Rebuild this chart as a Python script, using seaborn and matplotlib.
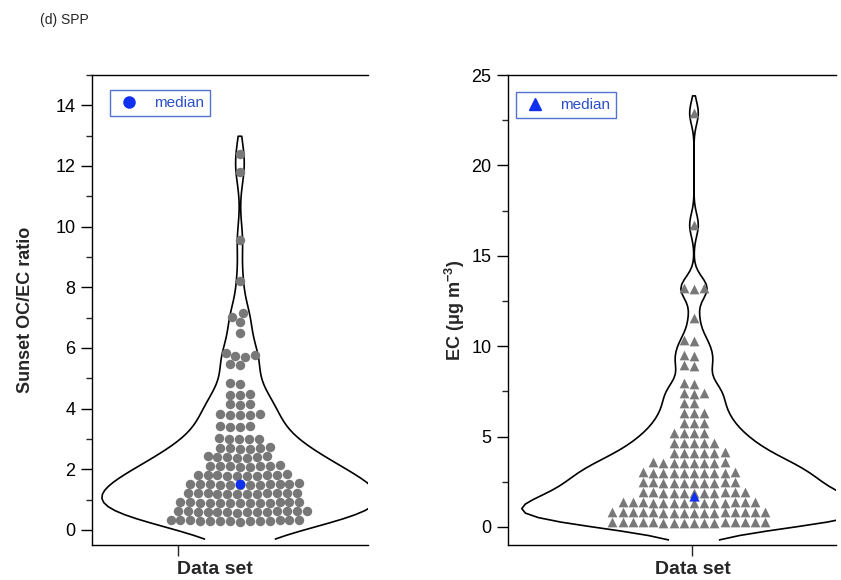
import numpy as np
import pandas as pd
import matplotlib
matplotlib.use("Agg")
import matplotlib.pyplot as plt
from matplotlib.ticker import MultipleLocator
from matplotlib.lines import Line2D
from matplotlib.path import Path
from matplotlib.collections import PolyCollection
import seaborn as sns

# ---------------- data ----------------
oc_ec_ratio = [
    0.28, 0.31, 0.29, 0.32, 0.30, 0.27, 0.33, 0.30, 0.29, 0.31, 0.32, 0.28, 0.30, 0.31,
    0.58, 0.61, 0.59, 0.62, 0.60, 0.57, 0.63, 0.60, 0.59, 0.61, 0.62, 0.58, 0.60, 0.61,
    0.88, 0.91, 0.89, 0.92, 0.90, 0.87, 0.93, 0.90, 0.89, 0.91, 0.92, 0.88, 0.90,
    1.18, 1.21, 1.19, 1.22, 1.20, 1.17, 1.23, 1.20, 1.19, 1.21, 1.22, 1.18,
    1.48, 1.51, 1.49, 1.52, 1.50, 1.47, 1.53, 1.50, 1.49, 1.51, 1.52, 1.48,
    1.78, 1.81, 1.79, 1.82, 1.80, 1.77, 1.83, 1.80, 1.79, 1.81,
    2.08, 2.11, 2.09, 2.12, 2.10, 2.07, 2.13, 2.10,
    2.38, 2.41, 2.39, 2.42, 2.40, 2.37, 2.43,
    2.68, 2.71, 2.69, 2.72, 2.70, 2.67,
    2.98, 3.01, 2.99, 3.02, 3.00,
    3.38, 3.41, 3.39, 3.42,
    3.78, 3.81, 3.79, 3.82, 3.80,
    4.13, 4.16, 4.14,
    4.45, 4.48, 4.46,
    4.80, 4.83,
    5.43, 5.46,
    5.70, 5.73, 5.76, 5.82,
    6.50, 6.85, 7.02, 7.15,
    8.20, 9.55, 11.80, 12.40,
]
ratio_median = 1.50

ec_conc = [
    0.23, 0.26, 0.24, 0.27, 0.25, 0.22, 0.28, 0.25, 0.24, 0.26, 0.27, 0.23, 0.25, 0.26, 0.24, 0.25,
    0.78, 0.81, 0.79, 0.82, 0.80, 0.77, 0.83, 0.80, 0.79, 0.81, 0.82, 0.78, 0.80, 0.81, 0.79, 0.80,
    1.33, 1.36, 1.34, 1.37, 1.35, 1.32, 1.38, 1.35, 1.34, 1.36, 1.37, 1.33, 1.35, 1.36,
    1.88, 1.91, 1.89, 1.92, 1.90, 1.87, 1.93, 1.90, 1.89, 1.91, 1.92,
    2.43, 2.46, 2.44, 2.47, 2.45, 2.42, 2.48, 2.45, 2.44, 2.46,
    2.98, 3.01, 2.99, 3.02, 3.00, 2.97, 3.03, 3.00, 2.99, 3.01,
    3.53, 3.56, 3.54, 3.57, 3.55, 3.52, 3.58, 3.55,
    4.08, 4.11, 4.09, 4.12, 4.10, 4.07,
    4.63, 4.66, 4.64, 4.67, 4.65,
    5.18, 5.21, 5.19, 5.22,
    5.73, 5.76, 5.74,
    6.28, 6.31, 6.29,
    6.83, 6.86,
    7.38, 7.41, 7.39,
    7.93, 7.96,
    8.90, 8.93,
    9.48, 9.52,
    10.28, 10.32,
    11.55,
    13.18, 13.22, 13.20,
    16.70, 22.90,
]
ec_median = 1.70

panel_title = "(d) SPP"
x_label = "Data set"
ratio_label = "Sunset OC/EC ratio"
ec_label = r"EC ($\mathbf{\mu}$g m$^{\mathbf{-3}}$)"
legend_label = "median"

# ---------------- style ----------------
sns.set_theme(style="white")
plt.rcParams["font.family"] = ["Liberation Sans", "DejaVu Sans"]
plt.rcParams["mathtext.fontset"] = "custom"
plt.rcParams["mathtext.rm"] = "Liberation Sans"
plt.rcParams["mathtext.bf"] = "Liberation Sans:bold"
plt.rcParams["mathtext.it"] = "Liberation Sans:italic"

GRAY = "#787878"
BLUE = "#1030f0"
LEG_BLUE = "#2a4fc8"

fig = plt.figure(figsize=(8.41, 5.80), dpi=100)
ax1 = fig.add_axes([92 / 841, 1 - 545 / 580, 276 / 841, 470 / 580])
ax2 = fig.add_axes([508 / 841, 1 - 545 / 580, 328 / 841, 470 / 580])


def open_violin(ax, before):
    """Remove the straight closing segment at the bottom of the violin outline."""
    for coll in ax.collections:
        if coll in before or not isinstance(coll, PolyCollection):
            continue
        new_paths = []
        for p in coll.get_paths():
            v = p.vertices.copy()
            codes = np.full(len(v), Path.LINETO, dtype=np.uint8)
            codes[0] = Path.MOVETO
            ymin = v[:, 1].min()
            for i in range(1, len(v)):
                if (abs(v[i, 1] - ymin) < 1e-9 and abs(v[i - 1, 1] - ymin) < 1e-9
                        and abs(v[i, 0] - v[i - 1, 0]) > 1e-12):
                    codes[i] = Path.MOVETO
            new_paths.append(Path(v, codes))
        coll._paths = new_paths
        coll.stale = True


def draw_panel(ax, values, med, marker, msize, width, bw_adjust, cut, ylim,
               major, minor, ylabel, xlim, xtick, leg_anchor, xlab_x, ylab_x):
    before = list(ax.collections)
    sns.violinplot(y=values, ax=ax, inner=None, fill=False, color="black",
                   linecolor="black", linewidth=1.2, width=width,
                   bw_adjust=bw_adjust, cut=cut, density_norm="width")
    open_violin(ax, before)
    sns.swarmplot(y=values, ax=ax, color=GRAY, marker=marker, size=msize,
                  linewidth=0, zorder=3)
    sns.scatterplot(x=[0], y=[med], ax=ax, color=BLUE, marker=marker,
                    s=(msize * 1.05) ** 2, linewidth=0, zorder=4)
    ax.set_ylim(*ylim)
    ax.set_xlim(*xlim)
    ax.yaxis.set_major_locator(MultipleLocator(major))
    ax.yaxis.set_minor_locator(MultipleLocator(minor))
    ax.set_xticks([xtick])
    ax.tick_params(axis="x", labelbottom=False)
    ax.tick_params(axis="y", which="major", direction="out", length=8,
                   width=1, labelsize=13, left=True, pad=4, colors="black")
    ax.tick_params(axis="y", which="minor", direction="out", length=4.5,
                   width=1, left=True)
    ax.tick_params(axis="x", which="major", direction="out", length=8,
                   width=1, bottom=True)
    for s in ["left", "bottom", "top"]:
        ax.spines[s].set_visible(True)
        ax.spines[s].set_color("black")
        ax.spines[s].set_linewidth(1.0)
    ax.spines["right"].set_visible(False)
    ax.set_ylabel(ylabel, fontsize=13, fontweight="bold")
    ax.yaxis.set_label_coords(ylab_x, 0.5)
    ax.set_xlabel(x_label, fontsize=14, fontweight="bold")
    ax.xaxis.set_label_coords(xlab_x, -0.033)
    handle = Line2D([], [], linestyle="none", marker=marker, color=BLUE,
                    markersize=8)
    leg = ax.legend([handle], [legend_label], loc="upper left",
                    bbox_to_anchor=leg_anchor, borderaxespad=0.0,
                    frameon=True, fancybox=False,
                    edgecolor=LEG_BLUE, labelcolor=LEG_BLUE, fontsize=11,
                    handletextpad=0.8, borderpad=0.4, handlelength=1.7)
    leg.get_frame().set_linewidth(1.0)


draw_panel(ax1, oc_ec_ratio, ratio_median, "o", 6.8, 1.0, 0.7, 1.0,
           (-0.5, 15), 2, 1, ratio_label, (-0.536, 0.464), -0.225,
           (0.065, 0.968), 0.446, -0.21)
draw_panel(ax2, ec_conc, ec_median, "^", 7.0, 1.05, 0.45, 1.5,
           (-1, 25), 5, 2.5, ec_label, (-0.567, 0.433), -0.006,
           (0.024, 0.964), 0.564, -0.125)

fig.text(40 / 841, 1 - 20 / 580, panel_title, fontsize=10, va="center",
         ha="left")

fig.savefig("out.png", dpi=100)
